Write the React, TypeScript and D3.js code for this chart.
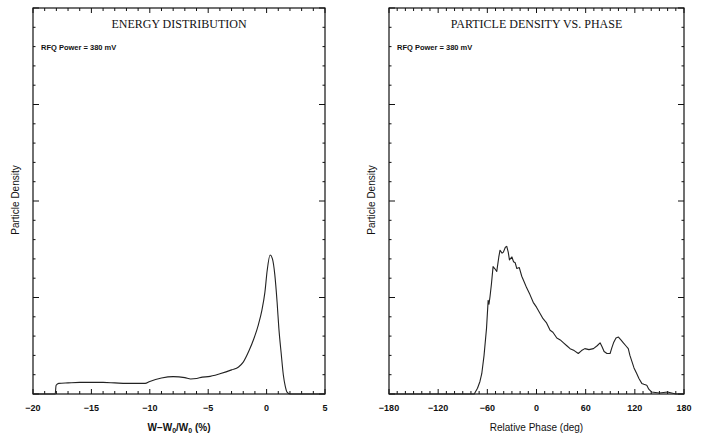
import React, { useRef, useEffect } from 'react';
import * as d3 from 'd3';

// energy distribution, W-W0/W0 (%) vs particle density
const energyX = [-20, -18.1, -18.02, -17.8, -17, -16, -15, -14, -13, -12, -11, -10.4, -10, -9, -8, -7, -6.5, -6, -5.5, -5, -4, -3, -2.4, -2, -1.5, -1.1, -0.7, -0.4, -0.15, 0.05, 0.3, 0.5, 0.7, 0.9, 1.05, 1.25, 1.43, 1.6, 1.75, 2, 3, 4, 5];
const energyY = [0, 0, 0.09, 0.11, 0.115, 0.12, 0.12, 0.12, 0.115, 0.11, 0.11, 0.11, 0.13, 0.165, 0.18, 0.17, 0.155, 0.16, 0.175, 0.18, 0.21, 0.25, 0.28, 0.33, 0.45, 0.57, 0.72, 0.87, 1.05, 1.28, 1.44, 1.4, 1.24, 0.95, 0.68, 0.42, 0.2, 0.08, 0.02, 0, 0, 0, 0];

// particle density vs relative phase (deg)
const phaseX = [-180, -100, -76, -72, -69, -66.8, -64, -61, -59, -58, -56.7, -55, -53, -51, -48.5, -46, -44.5, -42, -40.4, -38, -36.3, -34.5, -33, -30, -28, -26, -24, -21, -18, -15, -12, -8, -4, 0, 4, 8, 12, 16.6, 20, 24.8, 29, 33, 37, 41, 46, 51, 55, 59, 64, 69.5, 74, 77.6, 80, 82.5, 86, 89.8, 92, 94, 97, 100, 103, 106, 109, 112, 114, 116.3, 119, 122.4, 125, 128.5, 131, 134.6, 137, 140.7, 145, 150, 155, 160, 165, 170, 180];
const phaseY = [0, 0, 0, 0.06, 0.13, 0.21, 0.4, 0.68, 0.97, 0.93, 1.01, 1.14, 1.32, 1.3, 1.27, 1.42, 1.49, 1.46, 1.47, 1.52, 1.53, 1.47, 1.39, 1.42, 1.37, 1.36, 1.3, 1.31, 1.22, 1.16, 1.1, 1.03, 0.95, 0.9, 0.84, 0.78, 0.74, 0.66, 0.64, 0.58, 0.56, 0.53, 0.5, 0.47, 0.45, 0.42, 0.45, 0.47, 0.46, 0.47, 0.5, 0.53, 0.49, 0.44, 0.42, 0.42, 0.48, 0.53, 0.58, 0.59, 0.56, 0.53, 0.5, 0.47, 0.4, 0.34, 0.27, 0.21, 0.16, 0.11, 0.1, 0.09, 0.05, 0.02, 0.015, 0.01, 0.015, 0.02, 0.01, 0, 0];

const leftTicks = [-20, -15, -10, -5, 0, 5];
const rightTicks = [-180, -120, -60, 0, 60, 120, 180];

const Y_TOP = 8;
const Y_BOT = 394;

function Panel({ svg, xs, ys, x0, x1, domain, major, minorStep, title, xTitle, curve }) {
  const x = d3.scaleLinear().domain(domain).range([x0, x1]);
  const y = d3.scaleLinear().domain([0, 4]).range([Y_BOT, Y_TOP]);
  const g = svg.append('g');

  g.append('rect')
    .attr('x', x0).attr('y', Y_TOP)
    .attr('width', x1 - x0).attr('height', Y_BOT - Y_TOP)
    .attr('fill', 'none').attr('stroke', '#111').attr('stroke-width', 1.2);

  // x ticks top and bottom, pointing in
  const minors = d3.range(domain[0], domain[1] + 1e-6, minorStep);
  minors.forEach((v) => {
    const isMajor = major.includes(v);
    const len = isMajor ? 5 : 3;
    g.append('line').attr('x1', x(v)).attr('x2', x(v)).attr('y1', Y_BOT).attr('y2', Y_BOT - len)
      .attr('stroke', '#111').attr('stroke-width', 1);
    g.append('line').attr('x1', x(v)).attr('x2', x(v)).attr('y1', Y_TOP).attr('y2', Y_TOP + len)
      .attr('stroke', '#111').attr('stroke-width', 1);
  });

  // y ticks left and right
  d3.range(0, 4.0001, 0.2).forEach((v) => {
    const isMajor = Math.abs(v - Math.round(v)) < 1e-6;
    const len = isMajor ? 6 : 2.5;
    g.append('line').attr('x1', x0).attr('x2', x0 + len).attr('y1', y(v)).attr('y2', y(v))
      .attr('stroke', '#111').attr('stroke-width', 1);
    g.append('line').attr('x1', x1).attr('x2', x1 - len).attr('y1', y(v)).attr('y2', y(v))
      .attr('stroke', '#111').attr('stroke-width', 1);
  });

  g.selectAll('text.tick')
    .data(major)
    .enter()
    .append('text')
    .attr('class', 'tick')
    .attr('x', (d) => x(d))
    .attr('y', 411)
    .attr('text-anchor', 'middle')
    .attr('font-family', 'Liberation Sans, sans-serif')
    .attr('font-weight', 'bold')
    .attr('font-size', 9)
    .attr('fill', '#111')
    .text((d) => (d < 0 ? '\u2212' + Math.abs(d) : String(d)));

  const pts = xs.map((v, i) => [v, ys[i]]);
  const line = d3.line().curve(curve).x((d) => x(d[0])).y((d) => y(d[1]));
  g.append('path')
    .attr('d', line(pts))
    .attr('fill', 'none')
    .attr('stroke', '#222')
    .attr('stroke-width', 1.1)
    .attr('stroke-linejoin', 'round');

  const cx = (x0 + x1) / 2;
  g.append('text')
    .attr('x', cx).attr('y', 28)
    .attr('text-anchor', 'middle')
    .attr('font-family', 'Liberation Serif, serif')
    .attr('font-size', 12)
    .attr('fill', '#111')
    .text(title);

  g.append('text')
    .attr('x', x0 + 8).attr('y', 50)
    .attr('font-family', 'Liberation Sans, sans-serif')
    .attr('font-weight', 'bold')
    .attr('font-size', 7.5)
    .attr('fill', '#111')
    .text('RFQ Power = 380 mV');

  g.append('text')
    .attr('transform', `translate(${x0 - 14},${200}) rotate(-90)`)
    .attr('text-anchor', 'middle')
    .attr('font-family', 'Liberation Sans, sans-serif')
    .attr('font-size', 10)
    .attr('fill', '#111')
    .text('Particle Density');

  const xt = g.append('text')
    .attr('x', cx).attr('y', 431)
    .attr('text-anchor', 'middle')
    .attr('font-family', 'Liberation Sans, sans-serif')
    .attr('font-size', 10)
    .attr('fill', '#111');
  xTitle(xt);
}

export default function App() {
  const ref = useRef(null);

  useEffect(() => {
    const svg = d3.select(ref.current);
    svg.selectAll('*').remove();

    Panel({
      svg, xs: energyX, ys: energyY, x0: 33, x1: 325, domain: [-20, 5],
      major: leftTicks, minorStep: 1, title: 'ENERGY DISTRIBUTION',
      curve: d3.curveMonotoneX,
      xTitle: (t) => {
        t.attr('font-weight', 'bold');
        t.append('tspan').text('W\u2212W');
        t.append('tspan').attr('font-size', 7).attr('dy', 2).text('0');
        t.append('tspan').attr('dy', -2).text('/W');
        t.append('tspan').attr('font-size', 7).attr('dy', 2).text('0');
        t.append('tspan').attr('dy', -2).text(' (%)');
      },
    });

    Panel({
      svg, xs: phaseX, ys: phaseY, x0: 389, x1: 684, domain: [-180, 180],
      major: rightTicks, minorStep: 10, title: 'PARTICLE DENSITY VS. PHASE',
      curve: d3.curveLinear,
      xTitle: (t) => t.text('Relative Phase (deg)'),
    });
  }, []);

  return (
    <svg
      ref={ref}
      width={701}
      height={437}
      style={{ position: 'absolute', left: 0, top: 0, background: '#fff' }}
    />
  );
}
